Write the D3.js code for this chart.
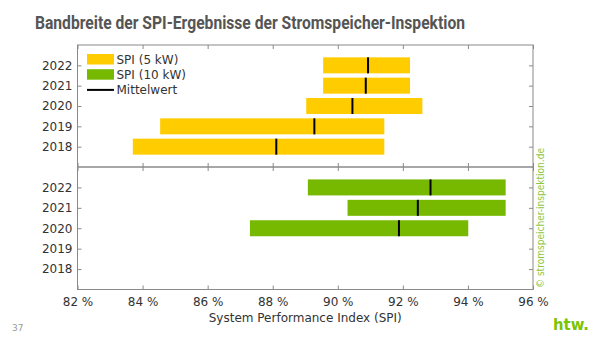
<!DOCTYPE html>
<html>
<head>
<meta charset="utf-8">
<script src="https://cdn.jsdelivr.net/npm/d3@7"></script>
<style>
  body { margin: 0; background: #fff; }
  svg { display: block; }
</style>
</head>
<body>
<svg id="chart"></svg>
<script>
// SPI ranges per year
const years = [2018, 2019, 2020, 2021, 2022];
const spi5Years = [2018, 2019, 2020, 2021, 2022];
const spi5Min = [83.7, 84.54, 89.03, 89.55, 89.55];
const spi5Max = [91.43, 91.43, 92.6, 92.22, 92.22];
const spi5Mean = [88.11, 89.28, 90.45, 90.86, 90.93];

const spi10Years = [2020, 2021, 2022];
const spi10Min = [87.3, 90.3, 89.08];
const spi10Max = [94.01, 95.16, 95.16];
const spi10Mean = [91.88, 92.46, 92.85];

const xTicks = [82, 84, 86, 88, 90, 92, 94, 96];

const width = 600;
const height = 338;
const left = 77.5;
const right = 533;
const axisColor = "#8a8a8a";
const textColor = "#333";
const yellow = "#ffcc00";
const green = "#76b900";

const svg = d3.select("#chart").attr("width", width).attr("height", height);

svg.append("text")
  .attr("x", 35).attr("y", 29)
  .attr("font-family", "Roboto")
  .attr("font-weight", "bold")
  .attr("font-size", 18.5)
  .attr("fill", "#555")
  .attr("textLength", 430)
  .attr("lengthAdjust", "spacingAndGlyphs")
  .text("Bandbreite der SPI-Ergebnisse der Stromspeicher-Inspektion");

const x = d3.scaleLinear().domain([82, 96]).range([left, right]);

const panels = [
  { top: 45, bottom: 167, yrs: spi5Years, mins: spi5Min, maxs: spi5Max, means: spi5Mean, color: yellow },
  { top: 167, bottom: 289.5, yrs: spi10Years, mins: spi10Min, maxs: spi10Max, means: spi10Mean, color: green },
];

panels.forEach((p, pi) => {
  const y = d3.scaleLinear().domain([2017, 2023]).range([p.bottom, p.top]);
  const g = svg.append("g");

  const rows = p.yrs.map((yr, i) => ({ yr, lo: p.mins[i], hi: p.maxs[i], mean: p.means[i] }));

  g.selectAll("rect.bar")
    .data(rows)
    .enter()
    .append("rect")
    .attr("class", "bar")
    .attr("x", (d) => x(d.lo))
    .attr("y", (d) => y(d.yr) - 8)
    .attr("width", (d) => x(d.hi) - x(d.lo))
    .attr("height", 16)
    .attr("fill", p.color);

  g.selectAll("line.mean")
    .data(rows)
    .enter()
    .append("line")
    .attr("class", "mean")
    .attr("x1", (d) => x(d.mean))
    .attr("x2", (d) => x(d.mean))
    .attr("y1", (d) => y(d.yr) - 8)
    .attr("y2", (d) => y(d.yr) + 8)
    .attr("stroke", "#000")
    .attr("stroke-width", 2);

  // frame
  g.append("rect")
    .attr("x", left).attr("y", p.top)
    .attr("width", right - left).attr("height", p.bottom - p.top)
    .attr("fill", "none")
    .attr("stroke", axisColor)
    .attr("stroke-width", 1);

  // y ticks (inside, both sides)
  const gl = g.append("g").attr("transform", `translate(${left},0)`)
    .call(d3.axisLeft(y).tickValues(years).tickSize(-4).tickPadding(5).tickFormat(d3.format("d")));
  const gr = g.append("g").attr("transform", `translate(${right},0)`)
    .call(d3.axisRight(y).tickValues(years).tickSize(-4).tickFormat(""));

  // x ticks top and bottom (inside)
  const gt = g.append("g").attr("transform", `translate(0,${p.top})`)
    .call(d3.axisTop(x).tickValues(xTicks).tickSize(-4).tickFormat(""));
  const gb = g.append("g").attr("transform", `translate(0,${p.bottom})`)
    .call(d3.axisBottom(x).tickValues(xTicks).tickSize(-4).tickPadding(8)
      .tickFormat((d) => (pi === 1 ? d + " %" : "")));

  [gl, gr, gt, gb].forEach((a) => {
    a.select(".domain").remove();
    a.selectAll(".tick line").attr("stroke", axisColor);
    a.selectAll("text")
      .attr("font-family", "DejaVu Sans")
      .attr("font-size", 12)
      .attr("fill", textColor);
  });
});

svg.append("text")
  .attr("x", (left + right) / 2).attr("y", 322)
  .attr("text-anchor", "middle")
  .attr("font-family", "DejaVu Sans")
  .attr("font-size", 12)
  .attr("fill", textColor)
  .text("System Performance Index (SPI)");

// legend
const legendItems = [
  { label: "SPI (5 kW)", type: "box", color: yellow },
  { label: "SPI (10 kW)", type: "box", color: green },
  { label: "Mittelwert", type: "line", color: "#000" },
];
const lg = svg.append("g").attr("transform", "translate(87,54)");
legendItems.forEach((d, i) => {
  const yy = i * 15.2;
  if (d.type === "box") {
    lg.append("rect").attr("x", 0).attr("y", yy).attr("width", 27).attr("height", 10.5).attr("fill", d.color);
  } else {
    lg.append("line").attr("x1", 0).attr("x2", 27).attr("y1", yy + 5.5).attr("y2", yy + 5.5)
      .attr("stroke", d.color).attr("stroke-width", 2);
  }
  lg.append("text")
    .attr("x", 29.5).attr("y", yy + 10)
    .attr("font-family", "DejaVu Sans")
    .attr("font-size", 12)
    .attr("fill", textColor)
    .text(d.label);
});

// copyright, vertical
svg.append("text")
  .attr("transform", "translate(544,288) rotate(-90)")
  .attr("font-family", "DejaVu Sans")
  .attr("font-size", 11)
  .attr("fill", "#8cc63f")
  .attr("textLength", 140)
  .attr("lengthAdjust", "spacingAndGlyphs")
  .text("© stromspeicher-inspektion.de");

svg.append("text")
  .attr("x", 12).attr("y", 331)
  .attr("font-family", "DejaVu Sans")
  .attr("font-size", 9)
  .attr("fill", "#999")
  .text("37");

svg.append("text")
  .attr("x", 553).attr("y", 330)
  .attr("font-family", "DejaVu Sans")
  .attr("font-weight", "bold")
  .attr("font-size", 15)
  .attr("fill", "#7ac400")
  .attr("textLength", 36)
  .attr("lengthAdjust", "spacingAndGlyphs")
  .text("htw.");
</script>
</body>
</html>
